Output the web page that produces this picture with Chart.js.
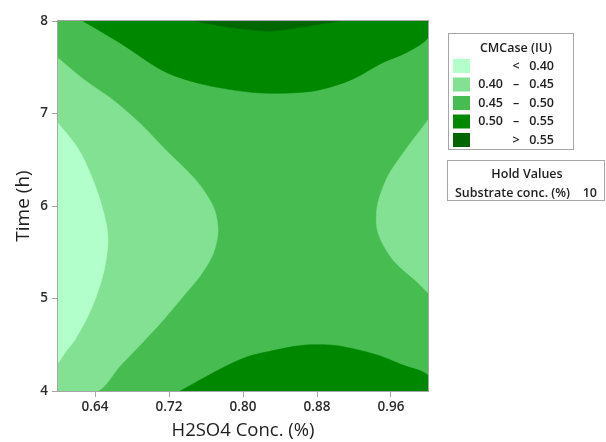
<!DOCTYPE html>
<html>
<head>
<meta charset="utf-8">
<script src="https://cdn.jsdelivr.net/npm/chart.js@4/dist/chart.umd.min.js"></script>
<style>
  html, body { margin: 0; padding: 0; background: #ffffff; }
  #wrap { width: 606px; height: 442px; }
</style>
</head>
<body>
<div id="wrap"><canvas id="c" width="606" height="442"></canvas></div>
<script>
// Axis setup
const xRange = [0.6, 1.0];
const yRange = [4, 8];
const xTicks = [0.64, 0.72, 0.80, 0.88, 0.96];
const yTicks = [4, 5, 6, 7, 8];

// Contour levels of CMCase (IU)
const levelLabels = [['', '<', '0.40'], ['0.40', '–', '0.45'], ['0.45', '–', '0.50'], ['0.50', '–', '0.55'], ['', '>', '0.55']];
const levelColors = ['#b3ffcb', '#82e193', '#47bd51', '#008700', '#006600'];

// Hold values
const holdName = 'Substrate conc. (%)';
const holdValue = '10';

// Contour regions as [H2SO4 conc., time] boundary points
const region45to50 = [[0.6, 4], [1.0, 4], [1.0, 8], [0.6, 8]];
const regionLeft40to45 = [
  [0.600, 7.60], [0.629, 7.36], [0.659, 7.15], [0.688, 6.90], [0.717, 6.60],
  [0.749, 6.28], [0.768, 5.99], [0.773, 5.74], [0.768, 5.49], [0.754, 5.25],
  [0.735, 5.02], [0.714, 4.77], [0.691, 4.52], [0.667, 4.27], [0.643, 4.00],
  [0.600, 4.00]
];
const regionBelow40 = [
  [0.600, 6.90], [0.623, 6.60], [0.641, 6.20], [0.652, 5.82], [0.654, 5.60],
  [0.650, 5.31], [0.642, 5.04], [0.632, 4.80], [0.618, 4.55], [0.608, 4.42],
  [0.600, 4.30]
];
const regionRight40to45 = [
  [1.000, 6.93], [0.973, 6.57], [0.956, 6.31], [0.945, 5.99], [0.946, 5.71],
  [0.962, 5.42], [0.988, 5.18], [1.000, 5.06]
];
const regionTop50to55 = [
  [0.627, 8.00], [0.669, 7.75], [0.716, 7.45], [0.759, 7.31], [0.808, 7.23],
  [0.843, 7.22], [0.880, 7.25], [0.916, 7.36], [0.951, 7.55], [0.977, 7.66],
  [1.000, 7.82], [1.000, 8.00]
];
const regionTopAbove55 = [
  [0.748, 8.00], [0.784, 7.935], [0.813, 7.90], [0.829, 7.89], [0.854, 7.92],
  [0.880, 7.96], [0.905, 8.00]
];
const regionBottom50to55 = [
  [0.732, 4.00], [0.759, 4.15], [0.788, 4.30], [0.808, 4.38], [0.829, 4.43],
  [0.854, 4.48], [0.872, 4.50], [0.902, 4.49], [0.945, 4.39], [0.973, 4.28],
  [1.000, 4.17], [1.000, 4.00]
];

const FONT = "'Open Sans', 'Noto Sans', sans-serif";
const INK = '#1e1e1e';

// [points, level index, drawing order (higher first), curve tension]
const layers = [
  [region45to50, 2, 10, 0],
  [regionLeft40to45, 1, 9, 0.3],
  [regionRight40to45, 1, 9, 0.3],
  [regionTop50to55, 3, 9, 0.3],
  [regionBottom50to55, 3, 9, 0.3],
  [regionBelow40, 0, 8, 0.3],
  [regionTopAbove55, 4, 8, 0.3]
];

const datasets = layers.map(([pts, lvl, ord, ten]) => ({
  data: pts.map(([x, y]) => ({ x, y })),
  showLine: true,
  fill: 'shape',
  backgroundColor: levelColors[lvl],
  borderColor: levelColors[lvl],
  borderWidth: 0.5,
  pointRadius: 0,
  pointHoverRadius: 0,
  tension: ten,
  order: ord
}));

// Frame around the plotting area and the two side panels
const panels = {
  id: 'panels',
  afterDatasetsDraw(chart) {
    const { ctx, chartArea: a } = chart;
    ctx.save();
    ctx.strokeStyle = '#a6a6a6';
    ctx.lineWidth = 1;
    ctx.strokeRect(Math.round(a.left) - 0.5, Math.round(a.top) - 0.5,
      Math.round(a.right - a.left) + 1, Math.round(a.bottom - a.top) + 1);
    ctx.restore();
  },
  afterDraw(chart) {
    const { ctx } = chart;
    ctx.save();
    ctx.strokeStyle = '#a6a6a6';
    ctx.lineWidth = 1;
    // level legend
    ctx.strokeRect(448.5, 33.5, 125, 116);
    ctx.fillStyle = INK;
    ctx.font = `600 12.5px ${FONT}`;
    ctx.textBaseline = 'middle';
    ctx.textAlign = 'center';
    ctx.fillText('CMCase (IU)', 516, 48);
    levelLabels.forEach((lab, i) => {
      const top = 59 + i * 18.5;
      ctx.fillStyle = levelColors[i];
      ctx.fillRect(453, top, 17, 14);
      ctx.fillStyle = INK;
      const cy = top + 7;
      ctx.textAlign = 'right';
      if (lab[0]) ctx.fillText(lab[0], 503, cy);
      ctx.fillText(lab[2], 554, cy);
      ctx.textAlign = 'center';
      ctx.fillText(lab[1], 516, cy);
    });
    // hold values panel
    ctx.strokeRect(447.5, 160.5, 157, 40);
    ctx.textAlign = 'center';
    ctx.fillText('Hold Values', 527, 174);
    ctx.textAlign = 'left';
    ctx.fillText(holdName, 455, 193);
    ctx.textAlign = 'right';
    ctx.fillText(holdValue, 597, 193);
    ctx.restore();
  }
};

new Chart(document.getElementById('c'), {
  type: 'scatter',
  data: { datasets },
  options: {
    responsive: false,
    animation: false,
    devicePixelRatio: 1,
    layout: { padding: { left: 0, top: 21, right: 178, bottom: 0 } },
    plugins: { legend: { display: false }, tooltip: { enabled: false } },
    scales: {
      x: {
        type: 'linear',
        min: xRange[0], max: xRange[1],
        afterBuildTicks: s => { s.ticks = xTicks.map(v => ({ value: v })); },
        afterFit: s => { s.height = 51; },
        ticks: {
          callback: v => v.toFixed(2),
          font: { family: FONT, size: 13.5, weight: '600' },
          color: '#2b2b2b', padding: 2, maxRotation: 0, autoSkip: false
        },
        grid: { drawOnChartArea: false, tickLength: 6, color: '#a6a6a6' },
        border: { display: false },
        title: {
          display: true, text: 'H2SO4 Conc. (%)',
          font: { family: FONT, size: 18.5, weight: '500' }, color: INK,
          padding: { top: 0, bottom: 0 }
        }
      },
      y: {
        type: 'linear',
        min: yRange[0], max: yRange[1],
        afterBuildTicks: s => { s.ticks = yTicks.map(v => ({ value: v })); },
        afterFit: s => { s.width = 58; },
        ticks: {
          font: { family: FONT, size: 13.5, weight: '600' },
          color: '#2b2b2b', padding: 4
        },
        grid: { drawOnChartArea: false, tickLength: 6, color: '#a6a6a6' },
        border: { display: false },
        title: {
          display: true, text: 'Time (h)',
          font: { family: FONT, size: 19, weight: '500' }, color: INK,
          padding: { top: 12, bottom: 0 }
        }
      }
    }
  },
  plugins: [panels]
});
</script>
</body>
</html>
